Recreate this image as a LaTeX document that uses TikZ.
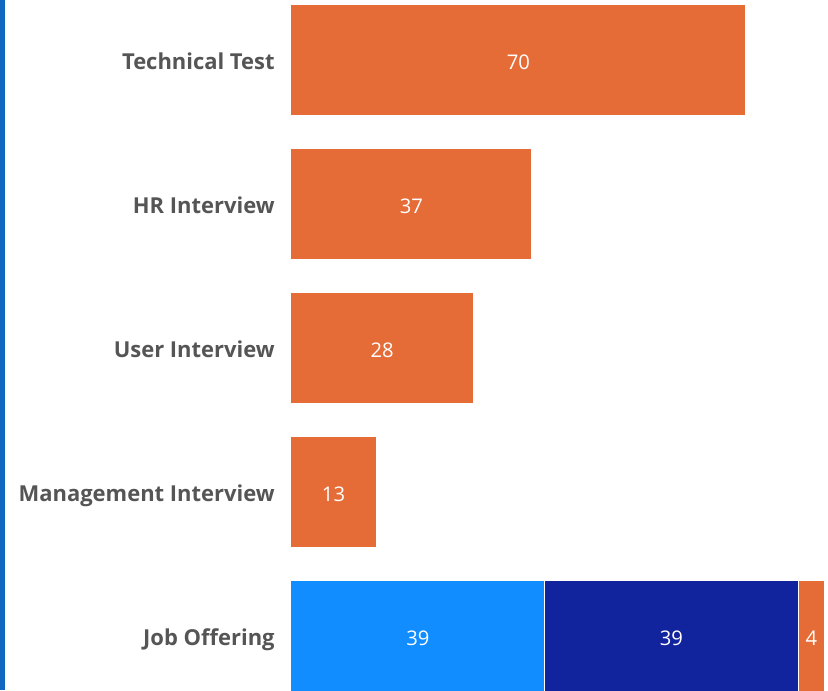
\documentclass[tikz,border=0pt]{standalone}
\usepackage{fontspec}
\setmainfont{Open Sans}
\usepackage{xcolor}
\definecolor{barorange}{RGB}{230,108,55}
\definecolor{offerlight}{RGB}{17,141,255}
\definecolor{offerdark}{RGB}{18,35,158}
\definecolor{labelgray}{RGB}{85,85,85}
\definecolor{edgeblue}{RGB}{17,103,192}
\usetikzlibrary{positioning}

\begin{document}
\begin{tikzpicture}[
    x=0.02cm, y=-0.02cm,
    stage/.style={anchor=east, inner sep=0pt, text height=10.5pt, text depth=0pt, text=labelgray, font=\bfseries\fontsize{12.5}{14}\selectfont},
    bar/.style={rectangle, anchor=west, inner sep=0pt, minimum height=2.2cm, minimum width=#1*0.12972cm, text height=10.5pt, text depth=0pt, fill=barorange, text=white, font=\fontsize{11.5}{13}\selectfont}
]
    \useasboundingbox (0,0) rectangle (828,690);
    \fill[edgeblue] (0,0) rectangle (5,690);

    % stage labels
    \node[stage] (tech) at (275,60) {Technical Test};
    \node[stage] (hr) at (275,204) {HR Interview};
    \node[stage] (user) at (275,348) {User Interview};
    \node[stage] (mgmt) at (275,492) {Management Interview};
    \node[stage] (offer) at (275,636) {Job Offering};

    % bars
    \node[bar=70] (techbar) at (291,60) {70};
    \node[bar=37] (hrbar) at (291,204) {37};
    \node[bar=28] (userbar) at (291,348) {28};
    \node[bar=13] (mgmtbar) at (291,492) {13};
    \node[bar=39, fill=offerlight] (offerbara) at (291,636) {39};
    \node[bar=39, fill=offerdark, right=0pt of offerbara] (offerbarb) {39};
    \node[bar=4, right=0pt of offerbarb] (offerbarc) {4};
\end{tikzpicture}
\end{document}
